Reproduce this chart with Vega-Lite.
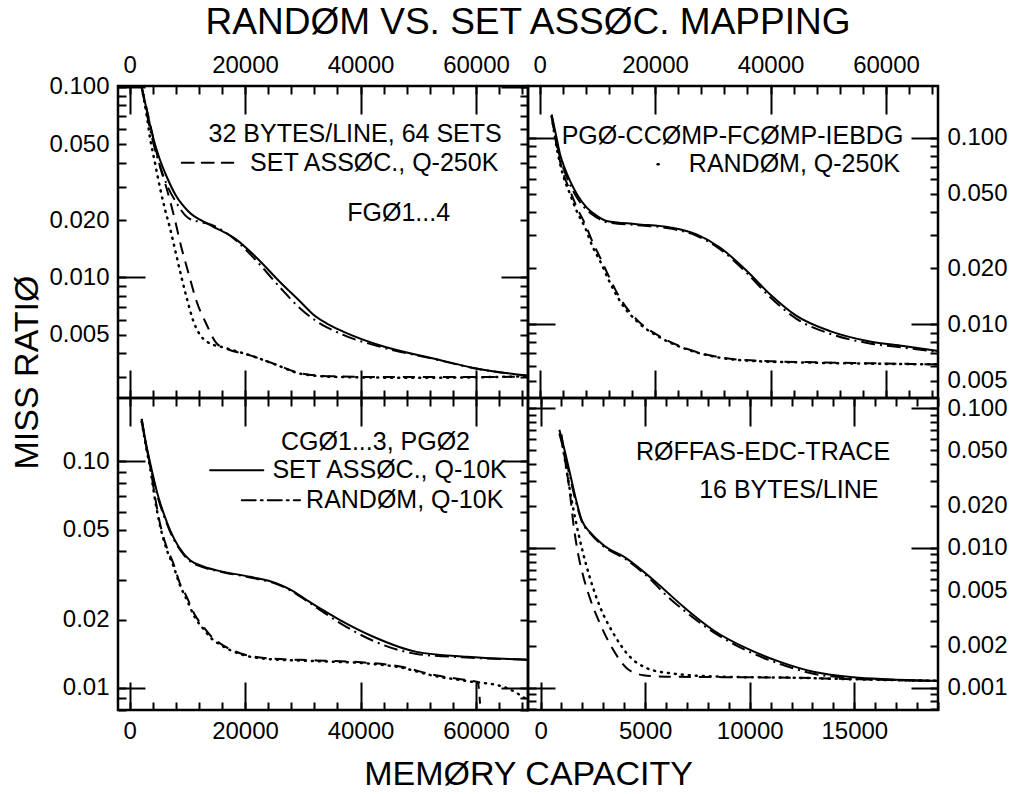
{
"$schema": "https://vega.github.io/schema/vega-lite/v6.json",
"padding": {"left": 9, "top": 3, "right": 5, "bottom": 5},
"title": {"text": "RANDØM VS. SET ASSØC. MAPPING", "anchor": "middle", "dx": 19, "font": "Liberation Sans", "fontSize": 37, "fontWeight": "normal", "color": "black", "offset": 10},
"config": {
  "view": {"stroke": "black", "strokeWidth": 2.5},
  "concat": {"spacing": 0},
  "axis": {"domain": false, "grid": false, "tickColor": "black", "tickWidth": 2, "labelFont": "Liberation Sans", "labelFontSize": 24, "labelColor": "black", "labelOverlap": false, "labelFlush": false, "labelBound": false, "titleFont": "Liberation Sans", "titleFontSize": 34, "titleFontWeight": "normal", "titleColor": "black"}
},
"datasets": {
  "curves": [
    {"p":"TL","s":"sa10","x":2100,"y":0.100},{"p":"TL","s":"sa10","x":3000,"y":0.075},{"p":"TL","s":"sa10","x":4100,"y":0.054},{"p":"TL","s":"sa10","x":5200,"y":0.042},{"p":"TL","s":"sa10","x":6400,"y":0.034},{"p":"TL","s":"sa10","x":8000,"y":0.027},{"p":"TL","s":"sa10","x":10200,"y":0.0222},{"p":"TL","s":"sa10","x":13900,"y":0.0189},{"p":"TL","s":"sa10","x":18500,"y":0.0158},{"p":"TL","s":"sa10","x":22000,"y":0.0127},{"p":"TL","s":"sa10","x":26000,"y":0.0095},{"p":"TL","s":"sa10","x":29500,"y":0.0075},{"p":"TL","s":"sa10","x":31800,"y":0.0064},{"p":"TL","s":"sa10","x":34100,"y":0.00575},{"p":"TL","s":"sa10","x":37000,"y":0.0052},{"p":"TL","s":"sa10","x":44000,"y":0.00434},{"p":"TL","s":"sa10","x":52600,"y":0.00376},{"p":"TL","s":"sa10","x":60100,"y":0.00333},{"p":"TL","s":"sa10","x":69000,"y":0.00305},
    {"p":"TL","s":"rn10","x":2100,"y":0.100},{"p":"TL","s":"rn10","x":3000,"y":0.072},{"p":"TL","s":"rn10","x":4100,"y":0.051},{"p":"TL","s":"rn10","x":5200,"y":0.039},{"p":"TL","s":"rn10","x":6400,"y":0.031},{"p":"TL","s":"rn10","x":8000,"y":0.025},{"p":"TL","s":"rn10","x":10200,"y":0.0205},{"p":"TL","s":"rn10","x":12500,"y":0.0195},{"p":"TL","s":"rn10","x":14000,"y":0.0190},{"p":"TL","s":"rn10","x":18500,"y":0.0156},{"p":"TL","s":"rn10","x":22000,"y":0.0122},{"p":"TL","s":"rn10","x":26000,"y":0.0089},{"p":"TL","s":"rn10","x":29500,"y":0.0069},{"p":"TL","s":"rn10","x":32000,"y":0.0060},{"p":"TL","s":"rn10","x":37000,"y":0.0050},{"p":"TL","s":"rn10","x":44000,"y":0.00428},{"p":"TL","s":"rn10","x":52600,"y":0.00374},{"p":"TL","s":"rn10","x":60100,"y":0.00332},{"p":"TL","s":"rn10","x":69000,"y":0.00305},
    {"p":"TL","s":"sa250","x":2100,"y":0.100},{"p":"TL","s":"sa250","x":3000,"y":0.076},{"p":"TL","s":"sa250","x":4100,"y":0.054},{"p":"TL","s":"sa250","x":5300,"y":0.038},{"p":"TL","s":"sa250","x":6400,"y":0.0295},{"p":"TL","s":"sa250","x":7700,"y":0.021},{"p":"TL","s":"sa250","x":9000,"y":0.0143},{"p":"TL","s":"sa250","x":10300,"y":0.0103},{"p":"TL","s":"sa250","x":11600,"y":0.0075},{"p":"TL","s":"sa250","x":13300,"y":0.0057},{"p":"TL","s":"sa250","x":15100,"y":0.0045},{"p":"TL","s":"sa250","x":17000,"y":0.0042},{"p":"TL","s":"sa250","x":20900,"y":0.0039},{"p":"TL","s":"sa250","x":25500,"y":0.00348},{"p":"TL","s":"sa250","x":29500,"y":0.00315},{"p":"TL","s":"sa250","x":35000,"y":0.00303},{"p":"TL","s":"sa250","x":45000,"y":0.00300},{"p":"TL","s":"sa250","x":55000,"y":0.00300},{"p":"TL","s":"sa250","x":62000,"y":0.00300},{"p":"TL","s":"sa250","x":69000,"y":0.00303},
    {"p":"TL","s":"rn250","x":2100,"y":0.100},{"p":"TL","s":"rn250","x":3000,"y":0.070},{"p":"TL","s":"rn250","x":3550,"y":0.054},{"p":"TL","s":"rn250","x":4400,"y":0.040},{"p":"TL","s":"rn250","x":5280,"y":0.0295},{"p":"TL","s":"rn250","x":6100,"y":0.023},{"p":"TL","s":"rn250","x":7000,"y":0.0182},{"p":"TL","s":"rn250","x":8000,"y":0.0135},{"p":"TL","s":"rn250","x":9040,"y":0.0099},{"p":"TL","s":"rn250","x":10000,"y":0.0076},{"p":"TL","s":"rn250","x":11050,"y":0.0059},{"p":"TL","s":"rn250","x":12200,"y":0.0050},{"p":"TL","s":"rn250","x":13400,"y":0.0046},{"p":"TL","s":"rn250","x":16800,"y":0.00425},{"p":"TL","s":"rn250","x":20900,"y":0.0039},{"p":"TL","s":"rn250","x":25500,"y":0.00347},{"p":"TL","s":"rn250","x":29500,"y":0.00313},{"p":"TL","s":"rn250","x":35300,"y":0.00301},{"p":"TL","s":"rn250","x":45000,"y":0.00298},{"p":"TL","s":"rn250","x":55000,"y":0.00298},{"p":"TL","s":"rn250","x":62000,"y":0.00300},{"p":"TL","s":"rn250","x":69000,"y":0.00303},

    {"p":"TR","s":"sa10","x":2100,"y":0.133},{"p":"TR","s":"sa10","x":2800,"y":0.105},{"p":"TR","s":"sa10","x":3550,"y":0.0815},{"p":"TR","s":"sa10","x":4400,"y":0.068},{"p":"TR","s":"sa10","x":5280,"y":0.0586},{"p":"TR","s":"sa10","x":6600,"y":0.049},{"p":"TR","s":"sa10","x":8170,"y":0.0422},{"p":"TR","s":"sa10","x":10000,"y":0.038},{"p":"TR","s":"sa10","x":11640,"y":0.0358},{"p":"TR","s":"sa10","x":16830,"y":0.0344},{"p":"TR","s":"sa10","x":22600,"y":0.033},{"p":"TR","s":"sa10","x":27200,"y":0.0303},{"p":"TR","s":"sa10","x":31300,"y":0.0257},{"p":"TR","s":"sa10","x":35900,"y":0.0193},{"p":"TR","s":"sa10","x":39900,"y":0.0145},{"p":"TR","s":"sa10","x":44500,"y":0.0111},{"p":"TR","s":"sa10","x":50300,"y":0.0092},{"p":"TR","s":"sa10","x":57200,"y":0.0081},{"p":"TR","s":"sa10","x":63000,"y":0.00765},{"p":"TR","s":"sa10","x":69000,"y":0.0072},
    {"p":"TR","s":"rn10","x":2100,"y":0.130},{"p":"TR","s":"rn10","x":2800,"y":0.100},{"p":"TR","s":"rn10","x":3550,"y":0.078},{"p":"TR","s":"rn10","x":4400,"y":0.065},{"p":"TR","s":"rn10","x":5280,"y":0.056},{"p":"TR","s":"rn10","x":6600,"y":0.047},{"p":"TR","s":"rn10","x":8170,"y":0.041},{"p":"TR","s":"rn10","x":10000,"y":0.0372},{"p":"TR","s":"rn10","x":11640,"y":0.0352},{"p":"TR","s":"rn10","x":16830,"y":0.034},{"p":"TR","s":"rn10","x":22600,"y":0.0326},{"p":"TR","s":"rn10","x":27200,"y":0.0298},{"p":"TR","s":"rn10","x":31300,"y":0.0252},{"p":"TR","s":"rn10","x":35900,"y":0.0188},{"p":"TR","s":"rn10","x":39900,"y":0.0140},{"p":"TR","s":"rn10","x":44500,"y":0.0107},{"p":"TR","s":"rn10","x":50300,"y":0.0089},{"p":"TR","s":"rn10","x":57200,"y":0.0079},{"p":"TR","s":"rn10","x":63000,"y":0.0075},{"p":"TR","s":"rn10","x":69000,"y":0.0071},
    {"p":"TR","s":"sa250","x":2100,"y":0.13},{"p":"TR","s":"sa250","x":2980,"y":0.09},{"p":"TR","s":"sa250","x":4000,"y":0.066},{"p":"TR","s":"sa250","x":5280,"y":0.052},{"p":"TR","s":"sa250","x":6500,"y":0.042},{"p":"TR","s":"sa250","x":7880,"y":0.0345},{"p":"TR","s":"sa250","x":9200,"y":0.0275},{"p":"TR","s":"sa250","x":10480,"y":0.0228},{"p":"TR","s":"sa250","x":12200,"y":0.0175},{"p":"TR","s":"sa250","x":13940,"y":0.0138},{"p":"TR","s":"sa250","x":16830,"y":0.0106},{"p":"TR","s":"sa250","x":20870,"y":0.0086},{"p":"TR","s":"sa250","x":25490,"y":0.0074},{"p":"TR","s":"sa250","x":31260,"y":0.00665},{"p":"TR","s":"sa250","x":37030,"y":0.0064},{"p":"TR","s":"sa250","x":48570,"y":0.00625},{"p":"TR","s":"sa250","x":58000,"y":0.00618},{"p":"TR","s":"sa250","x":69000,"y":0.0061},
    {"p":"TR","s":"rn250","x":2100,"y":0.13},{"p":"TR","s":"rn250","x":2980,"y":0.088},{"p":"TR","s":"rn250","x":4000,"y":0.064},{"p":"TR","s":"rn250","x":5280,"y":0.0498},{"p":"TR","s":"rn250","x":6500,"y":0.040},{"p":"TR","s":"rn250","x":7880,"y":0.033},{"p":"TR","s":"rn250","x":9200,"y":0.026},{"p":"TR","s":"rn250","x":10480,"y":0.0218},{"p":"TR","s":"rn250","x":12200,"y":0.0167},{"p":"TR","s":"rn250","x":13940,"y":0.0133},{"p":"TR","s":"rn250","x":16830,"y":0.0104},{"p":"TR","s":"rn250","x":20870,"y":0.0085},{"p":"TR","s":"rn250","x":25490,"y":0.00735},{"p":"TR","s":"rn250","x":31260,"y":0.00662},{"p":"TR","s":"rn250","x":37030,"y":0.00636},{"p":"TR","s":"rn250","x":48570,"y":0.00622},{"p":"TR","s":"rn250","x":58000,"y":0.00615},{"p":"TR","s":"rn250","x":69000,"y":0.0061},

    {"p":"BL","s":"sa10","x":2100,"y":0.154},{"p":"BL","s":"sa10","x":2800,"y":0.122},{"p":"BL","s":"sa10","x":3550,"y":0.099},{"p":"BL","s":"sa10","x":4990,"y":0.0696},{"p":"BL","s":"sa10","x":6000,"y":0.058},{"p":"BL","s":"sa10","x":7010,"y":0.0497},{"p":"BL","s":"sa10","x":8500,"y":0.042},{"p":"BL","s":"sa10","x":10480,"y":0.0366},{"p":"BL","s":"sa10","x":12500,"y":0.0345},{"p":"BL","s":"sa10","x":15100,"y":0.033},{"p":"BL","s":"sa10","x":20870,"y":0.0309},{"p":"BL","s":"sa10","x":25490,"y":0.0289},{"p":"BL","s":"sa10","x":28000,"y":0.0270},{"p":"BL","s":"sa10","x":30680,"y":0.0244},{"p":"BL","s":"sa10","x":33500,"y":0.022},{"p":"BL","s":"sa10","x":36450,"y":0.0199},{"p":"BL","s":"sa10","x":42220,"y":0.0168},{"p":"BL","s":"sa10","x":49730,"y":0.0144},{"p":"BL","s":"sa10","x":58390,"y":0.0137},{"p":"BL","s":"sa10","x":69000,"y":0.0133},
    {"p":"BL","s":"rn10","x":2100,"y":0.150},{"p":"BL","s":"rn10","x":2800,"y":0.12},{"p":"BL","s":"rn10","x":3550,"y":0.097},{"p":"BL","s":"rn10","x":4990,"y":0.068},{"p":"BL","s":"rn10","x":6000,"y":0.057},{"p":"BL","s":"rn10","x":7010,"y":0.049},{"p":"BL","s":"rn10","x":8500,"y":0.0415},{"p":"BL","s":"rn10","x":10480,"y":0.0362},{"p":"BL","s":"rn10","x":12500,"y":0.0342},{"p":"BL","s":"rn10","x":15100,"y":0.0328},{"p":"BL","s":"rn10","x":20870,"y":0.0307},{"p":"BL","s":"rn10","x":25490,"y":0.0287},{"p":"BL","s":"rn10","x":28000,"y":0.0268},{"p":"BL","s":"rn10","x":30680,"y":0.0242},{"p":"BL","s":"rn10","x":33500,"y":0.0216},{"p":"BL","s":"rn10","x":36450,"y":0.0193},{"p":"BL","s":"rn10","x":42220,"y":0.0161},{"p":"BL","s":"rn10","x":49730,"y":0.0141},{"p":"BL","s":"rn10","x":58390,"y":0.0136},{"p":"BL","s":"rn10","x":69000,"y":0.0133},
    {"p":"BL","s":"sa250","x":2100,"y":0.154},{"p":"BL","s":"sa250","x":2800,"y":0.12},{"p":"BL","s":"sa250","x":3550,"y":0.096},{"p":"BL","s":"sa250","x":4400,"y":0.070},{"p":"BL","s":"sa250","x":5280,"y":0.053},{"p":"BL","s":"sa250","x":6400,"y":0.042},{"p":"BL","s":"sa250","x":7590,"y":0.0354},{"p":"BL","s":"sa250","x":8700,"y":0.029},{"p":"BL","s":"sa250","x":9900,"y":0.0252},{"p":"BL","s":"sa250","x":11300,"y":0.021},{"p":"BL","s":"sa250","x":12780,"y":0.0186},{"p":"BL","s":"sa250","x":14200,"y":0.0168},{"p":"BL","s":"sa250","x":15670,"y":0.0157},{"p":"BL","s":"sa250","x":19130,"y":0.0142},{"p":"BL","s":"sa250","x":23760,"y":0.0135},{"p":"BL","s":"sa250","x":32420,"y":0.0132},{"p":"BL","s":"sa250","x":41070,"y":0.0129},{"p":"BL","s":"sa250","x":46840,"y":0.0124},{"p":"BL","s":"sa250","x":52600,"y":0.0114},{"p":"BL","s":"sa250","x":58390,"y":0.0108},{"p":"BL","s":"sa250","x":60300,"y":0.0106},{"p":"BL","s":"sa250","x":60700,"y":0.0085},
    {"p":"BL","s":"rn250","x":2100,"y":0.150},{"p":"BL","s":"rn250","x":2800,"y":0.118},{"p":"BL","s":"rn250","x":3550,"y":0.094},{"p":"BL","s":"rn250","x":4400,"y":0.068},{"p":"BL","s":"rn250","x":5280,"y":0.052},{"p":"BL","s":"rn250","x":6400,"y":0.041},{"p":"BL","s":"rn250","x":7590,"y":0.0345},{"p":"BL","s":"rn250","x":8700,"y":0.0285},{"p":"BL","s":"rn250","x":9900,"y":0.0245},{"p":"BL","s":"rn250","x":11300,"y":0.0205},{"p":"BL","s":"rn250","x":12780,"y":0.0182},{"p":"BL","s":"rn250","x":14200,"y":0.0165},{"p":"BL","s":"rn250","x":15670,"y":0.0155},{"p":"BL","s":"rn250","x":19130,"y":0.0141},{"p":"BL","s":"rn250","x":23760,"y":0.0134},{"p":"BL","s":"rn250","x":32420,"y":0.0131},{"p":"BL","s":"rn250","x":41070,"y":0.0128},{"p":"BL","s":"rn250","x":46840,"y":0.0123},{"p":"BL","s":"rn250","x":52600,"y":0.0113},{"p":"BL","s":"rn250","x":58390,"y":0.0107},{"p":"BL","s":"rn250","x":64730,"y":0.0101},{"p":"BL","s":"rn250","x":69000,"y":0.0088},

    {"p":"BR","s":"sa10","x":900,"y":0.070},{"p":"BR","s":"sa10","x":1150,"y":0.050},{"p":"BR","s":"sa10","x":1410,"y":0.034},{"p":"BR","s":"sa10","x":1700,"y":0.022},{"p":"BR","s":"sa10","x":1970,"y":0.0158},{"p":"BR","s":"sa10","x":2400,"y":0.0128},{"p":"BR","s":"sa10","x":3000,"y":0.0105},{"p":"BR","s":"sa10","x":4120,"y":0.0084},{"p":"BR","s":"sa10","x":5230,"y":0.0062},{"p":"BR","s":"sa10","x":6000,"y":0.0049},{"p":"BR","s":"sa10","x":6830,"y":0.0038},{"p":"BR","s":"sa10","x":8260,"y":0.00258},{"p":"BR","s":"sa10","x":9860,"y":0.00191},{"p":"BR","s":"sa10","x":11450,"y":0.00153},{"p":"BR","s":"sa10","x":13040,"y":0.0013},{"p":"BR","s":"sa10","x":14950,"y":0.00119},{"p":"BR","s":"sa10","x":16550,"y":0.00115},{"p":"BR","s":"sa10","x":19000,"y":0.00112},
    {"p":"BR","s":"rn10","x":900,"y":0.066},{"p":"BR","s":"rn10","x":1150,"y":0.047},{"p":"BR","s":"rn10","x":1410,"y":0.032},{"p":"BR","s":"rn10","x":1700,"y":0.021},{"p":"BR","s":"rn10","x":1970,"y":0.0155},{"p":"BR","s":"rn10","x":2400,"y":0.0126},{"p":"BR","s":"rn10","x":3000,"y":0.0103},{"p":"BR","s":"rn10","x":4120,"y":0.0082},{"p":"BR","s":"rn10","x":5230,"y":0.006},{"p":"BR","s":"rn10","x":6000,"y":0.0046},{"p":"BR","s":"rn10","x":6830,"y":0.0036},{"p":"BR","s":"rn10","x":8260,"y":0.0025},{"p":"BR","s":"rn10","x":9860,"y":0.00184},{"p":"BR","s":"rn10","x":11450,"y":0.00148},{"p":"BR","s":"rn10","x":13040,"y":0.00126},{"p":"BR","s":"rn10","x":14950,"y":0.00117},{"p":"BR","s":"rn10","x":16550,"y":0.00114},{"p":"BR","s":"rn10","x":19000,"y":0.00112},
    {"p":"BR","s":"sa250","x":1000,"y":0.065},{"p":"BR","s":"sa250","x":1200,"y":0.040},{"p":"BR","s":"sa250","x":1400,"y":0.025},{"p":"BR","s":"sa250","x":1570,"y":0.0149},{"p":"BR","s":"sa250","x":1800,"y":0.009},{"p":"BR","s":"sa250","x":2050,"y":0.0062},{"p":"BR","s":"sa250","x":2400,"y":0.0042},{"p":"BR","s":"sa250","x":2840,"y":0.00288},{"p":"BR","s":"sa250","x":3480,"y":0.00186},{"p":"BR","s":"sa250","x":4120,"y":0.00138},{"p":"BR","s":"sa250","x":4910,"y":0.00123},{"p":"BR","s":"sa250","x":6000,"y":0.0012},{"p":"BR","s":"sa250","x":9000,"y":0.00119},{"p":"BR","s":"sa250","x":12000,"y":0.00118},{"p":"BR","s":"sa250","x":15000,"y":0.00115},{"p":"BR","s":"sa250","x":19000,"y":0.00112},
    {"p":"BR","s":"rn250","x":1000,"y":0.06},{"p":"BR","s":"rn250","x":1090,"y":0.050},{"p":"BR","s":"rn250","x":1300,"y":0.032},{"p":"BR","s":"rn250","x":1490,"y":0.0219},{"p":"BR","s":"rn250","x":1810,"y":0.0127},{"p":"BR","s":"rn250","x":2210,"y":0.0073},{"p":"BR","s":"rn250","x":2840,"y":0.0038},{"p":"BR","s":"rn250","x":3480,"y":0.00245},{"p":"BR","s":"rn250","x":4280,"y":0.00166},{"p":"BR","s":"rn250","x":5080,"y":0.00138},{"p":"BR","s":"rn250","x":6190,"y":0.00127},{"p":"BR","s":"rn250","x":8580,"y":0.0012},{"p":"BR","s":"rn250","x":12000,"y":0.00118},{"p":"BR","s":"rn250","x":15000,"y":0.00115},{"p":"BR","s":"rn250","x":19000,"y":0.00112}
  ],
  "labels": [
    {"p":"TL","x":64450,"y":0.0564,"t":"32 BYTES/LINE, 64 SETS"},
    {"p":"TL","x":63860,"y":0.040,"t":"SET ASSØC., Q-250K"},
    {"p":"TL","x":55500,"y":0.0218,"t":"FGØ1...4"},
    {"p":"TR","x":63000,"y":0.102,"t":"PGØ-CCØMP-FCØMP-IEBDG"},
    {"p":"TR","x":62420,"y":0.072,"t":"RANDØM, Q-250K"},
    {"p":"BL","x":58960,"y":0.1216,"t":"CGØ1...3, PGØ2"},
    {"p":"BL","x":65320,"y":0.0913,"t":"SET ASSØC., Q-10K"},
    {"p":"BL","x":64730,"y":0.0673,"t":"RANDØM, Q-10K"},
    {"p":"BR","x":16710,"y":0.0485,"t":"RØFFAS-EDC-TRACE"},
    {"p":"BR","x":16150,"y":0.0258,"t":"16 BYTES/LINE"}
  ],
  "samples": [
    {"p":"TL","s":"sa250","x":9040,"x2":17970,"y":0.040},
    {"p":"TR","s":"rn250","x":20450,"x2":20700,"y":0.072},
    {"p":"BL","s":"sa10","x":13940,"x2":23170,"y":0.0913},
    {"p":"BL","s":"rn10","x":19430,"x2":29520,"y":0.0673}
  ]
},
"bounds": "flush",
"spacing": 0,
"columns": 2,
"concat": [
 {
  "width": 410, "height": 312,
  "resolve": {"axis": {"x": "independent", "y": "independent"}},
  "layer": [
   {"data": {"name": "curves"}, "transform": [{"filter": "datum.p == 'TL' && datum.s == 'sa10'"}],
    "mark": {"type": "line", "interpolate": "monotone", "color": "black", "strokeWidth": 2, "clip": true},
    "encoding": {
     "x": {"field": "x", "type": "quantitative", "scale": {"domain": [-2000, 69000], "nice": false, "zero": false}, "axis": {"orient": "top", "values": [0,4000,8000,12000,16000,20000,24000,28000,32000,36000,40000,44000,48000,52000,56000,60000,64000,68000], "tickSize": -8, "labelPadding": 17, "labelExpr": "datum.value % 20000 == 0 ? format(datum.value, 'd') : ''", "title": null}},
     "y": {"field": "y", "type": "quantitative", "scale": {"type": "log", "domain": [0.00233, 0.1012], "nice": false}, "axis": {"orient": "left", "values": [0.003,0.004,0.005,0.006,0.007,0.008,0.009,0.01,0.02,0.03,0.04,0.05,0.06,0.07,0.08,0.09,0.1], "tickSize": -8, "labelPadding": 17, "labelExpr": "indexof([0.1,0.05,0.02,0.01,0.005], datum.value) >= 0 ? format(datum.value, '.3f') : ''", "title": "MISS RATIØ", "titleY": 286}}
    }},
   {"data": {"name": "curves"}, "transform": [{"filter": "datum.p == 'TL' && datum.s == 'rn10'"}],
    "mark": {"type": "line", "interpolate": "monotone", "color": "black", "strokeWidth": 2, "strokeDash": [14,5,2,5], "clip": true},
    "encoding": {
     "x": {"field": "x", "type": "quantitative", "scale": {"domain": [-2000, 69000], "nice": false, "zero": false}, "axis": {"orient": "top", "values": [0,20000,40000,60000], "tickSize": -28, "labels": false, "title": null}},
     "y": {"field": "y", "type": "quantitative", "scale": {"type": "log", "domain": [0.00233, 0.1012], "nice": false}, "axis": {"orient": "left", "values": [0.01,0.1], "tickSize": -27, "labels": false, "title": null}}
    }},
   {"data": {"name": "curves"}, "transform": [{"filter": "datum.p == 'TL' && datum.s == 'sa250'"}],
    "mark": {"type": "line", "interpolate": "monotone", "color": "black", "strokeWidth": 2, "strokeDash": [12,8], "clip": true},
    "encoding": {
     "x": {"field": "x", "type": "quantitative", "scale": {"domain": [-2000, 69000], "nice": false, "zero": false}, "axis": {"orient": "bottom", "values": [0,4000,8000,12000,16000,20000,24000,28000,32000,36000,40000,44000,48000,52000,56000,60000,64000,68000], "tickSize": -8, "labels": false, "title": null}},
     "y": {"field": "y", "type": "quantitative", "scale": {"type": "log", "domain": [0.00233, 0.1012], "nice": false}, "axis": {"orient": "right", "values": [0.003,0.004,0.005,0.006,0.007,0.008,0.009,0.01,0.02,0.03,0.04,0.05,0.06,0.07,0.08,0.09,0.1], "tickSize": -8, "labels": false, "title": null}}
    }},
   {"data": {"name": "curves"}, "transform": [{"filter": "datum.p == 'TL' && datum.s == 'rn250'"}],
    "mark": {"type": "line", "interpolate": "monotone", "color": "black", "strokeWidth": 2.5, "strokeDash": [1,6], "strokeCap": "round", "clip": true},
    "encoding": {
     "x": {"field": "x", "type": "quantitative", "scale": {"domain": [-2000, 69000], "nice": false, "zero": false}, "axis": {"orient": "bottom", "values": [0,20000,40000,60000], "tickSize": -28, "labels": false, "title": null}},
     "y": {"field": "y", "type": "quantitative", "scale": {"type": "log", "domain": [0.00233, 0.1012], "nice": false}, "axis": {"orient": "right", "values": [0.01,0.1], "tickSize": -27, "labels": false, "title": null}}
    }},
   {"data": {"name": "samples"}, "transform": [{"filter": "datum.p == 'TL'"}],
    "mark": {"type": "rule", "color": "black", "strokeWidth": 2, "strokeCap": "round"},
    "encoding": {
     "x": {"field": "x", "type": "quantitative", "scale": {"domain": [-2000, 69000], "nice": false, "zero": false}, "axis": null},
     "x2": {"field": "x2"},
     "y": {"field": "y", "type": "quantitative", "scale": {"type": "log", "domain": [0.00233, 0.1012], "nice": false}, "axis": null},
     "strokeDash": {"field": "s", "type": "nominal", "scale": {"domain": ["sa10","rn10","sa250","rn250"], "range": [[1,0],[14,5,2,5],[12,8],[1,6]]}, "legend": null}
    }},
   {"data": {"name": "labels"}, "transform": [{"filter": "datum.p == 'TL'"}],
    "mark": {"type": "text", "align": "right", "baseline": "middle", "font": "Liberation Sans", "fontSize": 25, "color": "black"},
    "encoding": {
     "x": {"field": "x", "type": "quantitative", "scale": {"domain": [-2000, 69000], "nice": false, "zero": false}, "axis": null},
     "y": {"field": "y", "type": "quantitative", "scale": {"type": "log", "domain": [0.00233, 0.1012], "nice": false}, "axis": null},
     "text": {"field": "t"}
    }}
  ]
 },
 {
  "width": 410, "height": 312,
  "resolve": {"axis": {"x": "independent", "y": "independent"}},
  "layer": [
   {"data": {"name": "curves"}, "transform": [{"filter": "datum.p == 'TR' && datum.s == 'sa10'"}],
    "mark": {"type": "line", "interpolate": "monotone", "color": "black", "strokeWidth": 2, "clip": true},
    "encoding": {
     "x": {"field": "x", "type": "quantitative", "scale": {"domain": [-2000, 69000], "nice": false, "zero": false}, "axis": {"orient": "top", "values": [0,4000,8000,12000,16000,20000,24000,28000,32000,36000,40000,44000,48000,52000,56000,60000,64000,68000], "tickSize": -8, "labelPadding": 17, "labelExpr": "datum.value % 20000 == 0 ? format(datum.value, 'd') : ''", "title": null}},
     "y": {"field": "y", "type": "quantitative", "scale": {"type": "log", "domain": [0.00403, 0.189], "nice": false}, "axis": {"orient": "right", "values": [0.005,0.006,0.007,0.008,0.009,0.01,0.02,0.03,0.04,0.05,0.06,0.07,0.08,0.09,0.1], "tickSize": -8, "labelPadding": 17, "labelExpr": "indexof([0.1,0.05,0.02,0.01,0.005], datum.value) >= 0 ? format(datum.value, '.3f') : ''", "title": null}}
    }},
   {"data": {"name": "curves"}, "transform": [{"filter": "datum.p == 'TR' && datum.s == 'rn10'"}],
    "mark": {"type": "line", "interpolate": "monotone", "color": "black", "strokeWidth": 2, "strokeDash": [14,5,2,5], "clip": true},
    "encoding": {
     "x": {"field": "x", "type": "quantitative", "scale": {"domain": [-2000, 69000], "nice": false, "zero": false}, "axis": {"orient": "top", "values": [0,20000,40000,60000], "tickSize": -28, "labels": false, "title": null}},
     "y": {"field": "y", "type": "quantitative", "scale": {"type": "log", "domain": [0.00403, 0.189], "nice": false}, "axis": {"orient": "right", "values": [0.01,0.1], "tickSize": -27, "labels": false, "title": null}}
    }},
   {"data": {"name": "curves"}, "transform": [{"filter": "datum.p == 'TR' && datum.s == 'sa250'"}],
    "mark": {"type": "line", "interpolate": "monotone", "color": "black", "strokeWidth": 2, "strokeDash": [12,8], "clip": true},
    "encoding": {
     "x": {"field": "x", "type": "quantitative", "scale": {"domain": [-2000, 69000], "nice": false, "zero": false}, "axis": {"orient": "bottom", "values": [0,4000,8000,12000,16000,20000,24000,28000,32000,36000,40000,44000,48000,52000,56000,60000,64000,68000], "tickSize": -8, "labels": false, "title": null}},
     "y": {"field": "y", "type": "quantitative", "scale": {"type": "log", "domain": [0.00403, 0.189], "nice": false}, "axis": {"orient": "left", "values": [0.005,0.006,0.007,0.008,0.009,0.01,0.02,0.03,0.04,0.05,0.06,0.07,0.08,0.09,0.1], "tickSize": -8, "labels": false, "title": null}}
    }},
   {"data": {"name": "curves"}, "transform": [{"filter": "datum.p == 'TR' && datum.s == 'rn250'"}],
    "mark": {"type": "line", "interpolate": "monotone", "color": "black", "strokeWidth": 2.5, "strokeDash": [1,6], "strokeCap": "round", "clip": true},
    "encoding": {
     "x": {"field": "x", "type": "quantitative", "scale": {"domain": [-2000, 69000], "nice": false, "zero": false}, "axis": {"orient": "bottom", "values": [0,20000,40000,60000], "tickSize": -28, "labels": false, "title": null}},
     "y": {"field": "y", "type": "quantitative", "scale": {"type": "log", "domain": [0.00403, 0.189], "nice": false}, "axis": {"orient": "left", "values": [0.01,0.1], "tickSize": -27, "labels": false, "title": null}}
    }},
   {"data": {"name": "samples"}, "transform": [{"filter": "datum.p == 'TR'"}],
    "mark": {"type": "rule", "color": "black", "strokeWidth": 2.5, "strokeCap": "round"},
    "encoding": {
     "x": {"field": "x", "type": "quantitative", "scale": {"domain": [-2000, 69000], "nice": false, "zero": false}, "axis": null},
     "x2": {"field": "x2"},
     "y": {"field": "y", "type": "quantitative", "scale": {"type": "log", "domain": [0.00403, 0.189], "nice": false}, "axis": null},
     "strokeDash": {"field": "s", "type": "nominal", "scale": {"domain": ["sa10","rn10","sa250","rn250"], "range": [[1,0],[14,5,2,5],[12,8],[1,6]]}, "legend": null}
    }},
   {"data": {"name": "labels"}, "transform": [{"filter": "datum.p == 'TR'"}],
    "mark": {"type": "text", "align": "right", "baseline": "middle", "font": "Liberation Sans", "fontSize": 25, "color": "black"},
    "encoding": {
     "x": {"field": "x", "type": "quantitative", "scale": {"domain": [-2000, 69000], "nice": false, "zero": false}, "axis": null},
     "y": {"field": "y", "type": "quantitative", "scale": {"type": "log", "domain": [0.00403, 0.189], "nice": false}, "axis": null},
     "text": {"field": "t"}
    }}
  ]
 },
 {
  "width": 410, "height": 312,
  "resolve": {"axis": {"x": "independent", "y": "independent"}},
  "layer": [
   {"data": {"name": "curves"}, "transform": [{"filter": "datum.p == 'BL' && datum.s == 'sa10'"}],
    "mark": {"type": "line", "interpolate": "monotone", "color": "black", "strokeWidth": 2, "clip": true},
    "encoding": {
     "x": {"field": "x", "type": "quantitative", "scale": {"domain": [-2000, 69000], "nice": false, "zero": false}, "axis": {"orient": "bottom", "values": [0,4000,8000,12000,16000,20000,24000,28000,32000,36000,40000,44000,48000,52000,56000,60000,64000,68000], "tickSize": -8, "labelPadding": 17, "labelExpr": "datum.value % 20000 == 0 ? format(datum.value, 'd') : ''", "title": "MEMØRY CAPACITY", "titleX": 410, "titlePadding": 14}},
     "y": {"field": "y", "type": "quantitative", "scale": {"type": "log", "domain": [0.00797, 0.1906], "nice": false}, "axis": {"orient": "left", "values": [0.008,0.009,0.01,0.02,0.03,0.04,0.05,0.06,0.07,0.08,0.09,0.1], "tickSize": -8, "labelPadding": 17, "labelExpr": "indexof([0.1,0.05,0.02,0.01], datum.value) >= 0 ? format(datum.value, '.2f') : ''", "title": null}}
    }},
   {"data": {"name": "curves"}, "transform": [{"filter": "datum.p == 'BL' && datum.s == 'rn10'"}],
    "mark": {"type": "line", "interpolate": "monotone", "color": "black", "strokeWidth": 2, "strokeDash": [14,5,2,5], "clip": true},
    "encoding": {
     "x": {"field": "x", "type": "quantitative", "scale": {"domain": [-2000, 69000], "nice": false, "zero": false}, "axis": {"orient": "bottom", "values": [0,20000,40000,60000], "tickSize": -28, "labels": false, "title": null}},
     "y": {"field": "y", "type": "quantitative", "scale": {"type": "log", "domain": [0.00797, 0.1906], "nice": false}, "axis": {"orient": "left", "values": [0.01,0.1], "tickSize": -27, "labels": false, "title": null}}
    }},
   {"data": {"name": "curves"}, "transform": [{"filter": "datum.p == 'BL' && datum.s == 'sa250'"}],
    "mark": {"type": "line", "interpolate": "monotone", "color": "black", "strokeWidth": 2, "strokeDash": [12,8], "clip": true},
    "encoding": {
     "x": {"field": "x", "type": "quantitative", "scale": {"domain": [-2000, 69000], "nice": false, "zero": false}, "axis": {"orient": "top", "values": [0,4000,8000,12000,16000,20000,24000,28000,32000,36000,40000,44000,48000,52000,56000,60000,64000,68000], "tickSize": -8, "labels": false, "title": null}},
     "y": {"field": "y", "type": "quantitative", "scale": {"type": "log", "domain": [0.00797, 0.1906], "nice": false}, "axis": {"orient": "right", "values": [0.008,0.009,0.01,0.02,0.03,0.04,0.05,0.06,0.07,0.08,0.09,0.1], "tickSize": -8, "labels": false, "title": null}}
    }},
   {"data": {"name": "curves"}, "transform": [{"filter": "datum.p == 'BL' && datum.s == 'rn250'"}],
    "mark": {"type": "line", "interpolate": "monotone", "color": "black", "strokeWidth": 2.5, "strokeDash": [1,6], "strokeCap": "round", "clip": true},
    "encoding": {
     "x": {"field": "x", "type": "quantitative", "scale": {"domain": [-2000, 69000], "nice": false, "zero": false}, "axis": {"orient": "top", "values": [0,20000,40000,60000], "tickSize": -28, "labels": false, "title": null}},
     "y": {"field": "y", "type": "quantitative", "scale": {"type": "log", "domain": [0.00797, 0.1906], "nice": false}, "axis": {"orient": "right", "values": [0.01,0.1], "tickSize": -27, "labels": false, "title": null}}
    }},
   {"data": {"name": "samples"}, "transform": [{"filter": "datum.p == 'BL'"}],
    "mark": {"type": "rule", "color": "black", "strokeWidth": 2, "strokeCap": "round"},
    "encoding": {
     "x": {"field": "x", "type": "quantitative", "scale": {"domain": [-2000, 69000], "nice": false, "zero": false}, "axis": null},
     "x2": {"field": "x2"},
     "y": {"field": "y", "type": "quantitative", "scale": {"type": "log", "domain": [0.00797, 0.1906], "nice": false}, "axis": null},
     "strokeDash": {"field": "s", "type": "nominal", "scale": {"domain": ["sa10","rn10","sa250","rn250"], "range": [[1,0],[14,5,2,5],[12,8],[1,6]]}, "legend": null}
    }},
   {"data": {"name": "labels"}, "transform": [{"filter": "datum.p == 'BL'"}],
    "mark": {"type": "text", "align": "right", "baseline": "middle", "font": "Liberation Sans", "fontSize": 25, "color": "black"},
    "encoding": {
     "x": {"field": "x", "type": "quantitative", "scale": {"domain": [-2000, 69000], "nice": false, "zero": false}, "axis": null},
     "y": {"field": "y", "type": "quantitative", "scale": {"type": "log", "domain": [0.00797, 0.1906], "nice": false}, "axis": null},
     "text": {"field": "t"}
    }}
  ]
 },
 {
  "width": 410, "height": 312,
  "resolve": {"axis": {"x": "independent", "y": "independent"}},
  "layer": [
   {"data": {"name": "curves"}, "transform": [{"filter": "datum.p == 'BR' && datum.s == 'sa10'"}],
    "mark": {"type": "line", "interpolate": "monotone", "color": "black", "strokeWidth": 2, "clip": true},
    "encoding": {
     "x": {"field": "x", "type": "quantitative", "scale": {"domain": [-600, 19000], "nice": false, "zero": false}, "axis": {"orient": "bottom", "values": [0,1000,2000,3000,4000,5000,6000,7000,8000,9000,10000,11000,12000,13000,14000,15000,16000,17000,18000,19000], "tickSize": -8, "labelPadding": 17, "labelExpr": "datum.value % 5000 == 0 ? format(datum.value, 'd') : ''", "title": null}},
     "y": {"field": "y", "type": "quantitative", "scale": {"type": "log", "domain": [0.000693, 0.1183], "nice": false}, "axis": {"orient": "right", "values": [0.0007,0.0008,0.0009,0.001,0.002,0.003,0.004,0.005,0.006,0.007,0.008,0.009,0.01,0.02,0.03,0.04,0.05,0.06,0.07,0.08,0.09,0.1], "tickSize": -8, "labelPadding": 17, "labelExpr": "indexof([0.1,0.05,0.02,0.01,0.005,0.002,0.001], datum.value) >= 0 ? format(datum.value, '.3f') : ''", "title": null}}
    }},
   {"data": {"name": "curves"}, "transform": [{"filter": "datum.p == 'BR' && datum.s == 'rn10'"}],
    "mark": {"type": "line", "interpolate": "monotone", "color": "black", "strokeWidth": 2, "strokeDash": [14,5,2,5], "clip": true},
    "encoding": {
     "x": {"field": "x", "type": "quantitative", "scale": {"domain": [-600, 19000], "nice": false, "zero": false}, "axis": {"orient": "bottom", "values": [0,5000,10000,15000], "tickSize": -28, "labels": false, "title": null}},
     "y": {"field": "y", "type": "quantitative", "scale": {"type": "log", "domain": [0.000693, 0.1183], "nice": false}, "axis": {"orient": "right", "values": [0.001,0.01,0.1], "tickSize": -27, "labels": false, "title": null}}
    }},
   {"data": {"name": "curves"}, "transform": [{"filter": "datum.p == 'BR' && datum.s == 'sa250'"}],
    "mark": {"type": "line", "interpolate": "monotone", "color": "black", "strokeWidth": 2, "strokeDash": [12,8], "clip": true},
    "encoding": {
     "x": {"field": "x", "type": "quantitative", "scale": {"domain": [-600, 19000], "nice": false, "zero": false}, "axis": {"orient": "top", "values": [0,1000,2000,3000,4000,5000,6000,7000,8000,9000,10000,11000,12000,13000,14000,15000,16000,17000,18000,19000], "tickSize": -8, "labels": false, "title": null}},
     "y": {"field": "y", "type": "quantitative", "scale": {"type": "log", "domain": [0.000693, 0.1183], "nice": false}, "axis": {"orient": "left", "values": [0.0007,0.0008,0.0009,0.001,0.002,0.003,0.004,0.005,0.006,0.007,0.008,0.009,0.01,0.02,0.03,0.04,0.05,0.06,0.07,0.08,0.09,0.1], "tickSize": -8, "labels": false, "title": null}}
    }},
   {"data": {"name": "curves"}, "transform": [{"filter": "datum.p == 'BR' && datum.s == 'rn250'"}],
    "mark": {"type": "line", "interpolate": "monotone", "color": "black", "strokeWidth": 2.5, "strokeDash": [1,6], "strokeCap": "round", "clip": true},
    "encoding": {
     "x": {"field": "x", "type": "quantitative", "scale": {"domain": [-600, 19000], "nice": false, "zero": false}, "axis": {"orient": "top", "values": [0,5000,10000,15000], "tickSize": -28, "labels": false, "title": null}},
     "y": {"field": "y", "type": "quantitative", "scale": {"type": "log", "domain": [0.000693, 0.1183], "nice": false}, "axis": {"orient": "left", "values": [0.001,0.01,0.1], "tickSize": -27, "labels": false, "title": null}}
    }},
   {"data": {"name": "labels"}, "transform": [{"filter": "datum.p == 'BR'"}],
    "mark": {"type": "text", "align": "right", "baseline": "middle", "font": "Liberation Sans", "fontSize": 25, "color": "black"},
    "encoding": {
     "x": {"field": "x", "type": "quantitative", "scale": {"domain": [-600, 19000], "nice": false, "zero": false}, "axis": null},
     "y": {"field": "y", "type": "quantitative", "scale": {"type": "log", "domain": [0.000693, 0.1183], "nice": false}, "axis": null},
     "text": {"field": "t"}
    }}
  ]
 }
]
}
